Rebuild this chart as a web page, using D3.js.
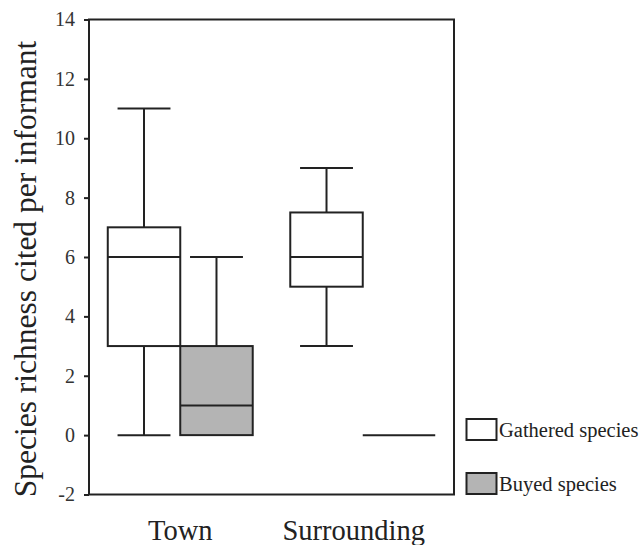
<!DOCTYPE html>
<html>
<head>
<meta charset="utf-8">
<script src="https://cdn.jsdelivr.net/npm/d3@7"></script>
</head>
<body style="margin:0;padding:0;background:#fff">
<svg id="chart" width="643" height="545" style="display:block"></svg>
<script>
// Sites and the two kinds of species cited
const groups = ["Town", "Surrounding"];
const series = ["Gathered species", "Buyed species"];

// Five-number summaries per site (Town, Surrounding)
const gatheredMin = [0, 3];
const gatheredQ1 = [3, 5];
const gatheredMedian = [6, 6];
const gatheredQ3 = [7, 7.5];
const gatheredMax = [11, 9];

const buyedMin = [0, 0];
const buyedQ1 = [0, 0];
const buyedMedian = [1, 0];
const buyedQ3 = [3, 0];
const buyedMax = [6, 0];

const yTicks = [-2, 0, 2, 4, 6, 8, 10, 12, 14];
const fills = { "Gathered species": "#ffffff", "Buyed species": "#b4b4b4" };
const ink = "#222";
const serifFont = "Liberation Serif";

const boxes = [];
groups.forEach((g, i) => {
  boxes.push({ group: g, series: series[0], min: gatheredMin[i], q1: gatheredQ1[i], median: gatheredMedian[i], q3: gatheredQ3[i], max: gatheredMax[i] });
  boxes.push({ group: g, series: series[1], min: buyedMin[i], q1: buyedQ1[i], median: buyedMedian[i], q3: buyedQ3[i], max: buyedMax[i] });
});

const svg = d3.select("#chart").attr("font-family", serifFont);
const plotLeft = 89, plotRight = 454, plotTop = 19.5, plotBottom = 494.5;

const y = d3.scaleLinear().domain([-2, 14]).range([plotBottom, plotTop]);
const xg = d3.scaleBand().domain(groups).range([plotLeft, plotRight]);
const xs = d3.scaleBand().domain(series).range([0, xg.bandwidth()]).paddingOuter(0.259);

// Plot frame
svg.append("rect")
  .attr("x", plotLeft).attr("y", plotTop)
  .attr("width", plotRight - plotLeft).attr("height", plotBottom - plotTop)
  .attr("fill", "none").attr("stroke", ink).attr("stroke-width", 2);

// Y axis
const yAxis = svg.append("g")
  .attr("transform", `translate(${plotLeft},0)`)
  .call(d3.axisLeft(y).tickValues(yTicks).tickSize(5).tickPadding(9).tickFormat(d => String(d)));
yAxis.attr("font-family", serifFont).attr("font-size", 20);
yAxis.select(".domain").remove();
yAxis.selectAll(".tick line").attr("stroke", ink).attr("stroke-width", 2);
yAxis.selectAll(".tick text").attr("fill", "#333");

// X axis: category labels only
const xAxis = svg.append("g")
  .attr("transform", `translate(0,${plotBottom})`)
  .call(d3.axisBottom(xg).tickSize(0).tickPadding(25));
xAxis.attr("font-family", serifFont).attr("font-size", 28.5);
xAxis.select(".domain").remove();
xAxis.selectAll(".tick text").attr("fill", "#222")
  .filter(d => d === "Surrounding").attr("dx", -9);

// Y axis title
svg.append("text")
  .attr("transform", `translate(36,${(plotTop + plotBottom) / 2 + 12}) rotate(-90)`)
  .attr("text-anchor", "middle")
  .attr("fill", "#222")
  .attr("font-family", serifFont)
  .attr("font-size", 31.5)
  .text("Species richness cited per informant");

// Box plots
const bw = xs.bandwidth();
const capW = bw * 0.73;
const g = svg.append("g");
boxes.forEach(b => {
  const x0 = xg(b.group) + xs(b.series);
  const cx = x0 + bw / 2;
  const grp = g.append("g").attr("stroke", ink).attr("stroke-width", 2).attr("fill", "none");
  // whiskers
  if (b.max > b.q3) {
    grp.append("line").attr("x1", cx).attr("x2", cx).attr("y1", y(b.q3)).attr("y2", y(b.max));
    grp.append("line").attr("x1", cx - capW / 2).attr("x2", cx + capW / 2).attr("y1", y(b.max)).attr("y2", y(b.max));
  }
  if (b.min < b.q1) {
    grp.append("line").attr("x1", cx).attr("x2", cx).attr("y1", y(b.q1)).attr("y2", y(b.min));
    grp.append("line").attr("x1", cx - capW / 2).attr("x2", cx + capW / 2).attr("y1", y(b.min)).attr("y2", y(b.min));
  }
  // box
  if (b.q3 > b.q1) {
    grp.append("rect")
      .attr("x", x0).attr("y", y(b.q3))
      .attr("width", bw).attr("height", y(b.q1) - y(b.q3))
      .attr("fill", fills[b.series]);
  }
  // median
  grp.append("line").attr("x1", x0).attr("x2", x0 + bw).attr("y1", y(b.median)).attr("y2", y(b.median));
});

// Legend
const legend = svg.append("g");
series.forEach((s, i) => {
  const ly = 419 + i * 54;
  legend.append("rect")
    .attr("x", 466.5).attr("y", ly)
    .attr("width", 30).attr("height", 21)
    .attr("fill", fills[s]).attr("stroke", ink).attr("stroke-width", 2);
  legend.append("text")
    .attr("x", 499).attr("y", ly + 18)
    .attr("fill", "#222")
    .attr("font-family", serifFont)
    .attr("font-size", 20.5)
    .text(s);
});
</script>
</body>
</html>
